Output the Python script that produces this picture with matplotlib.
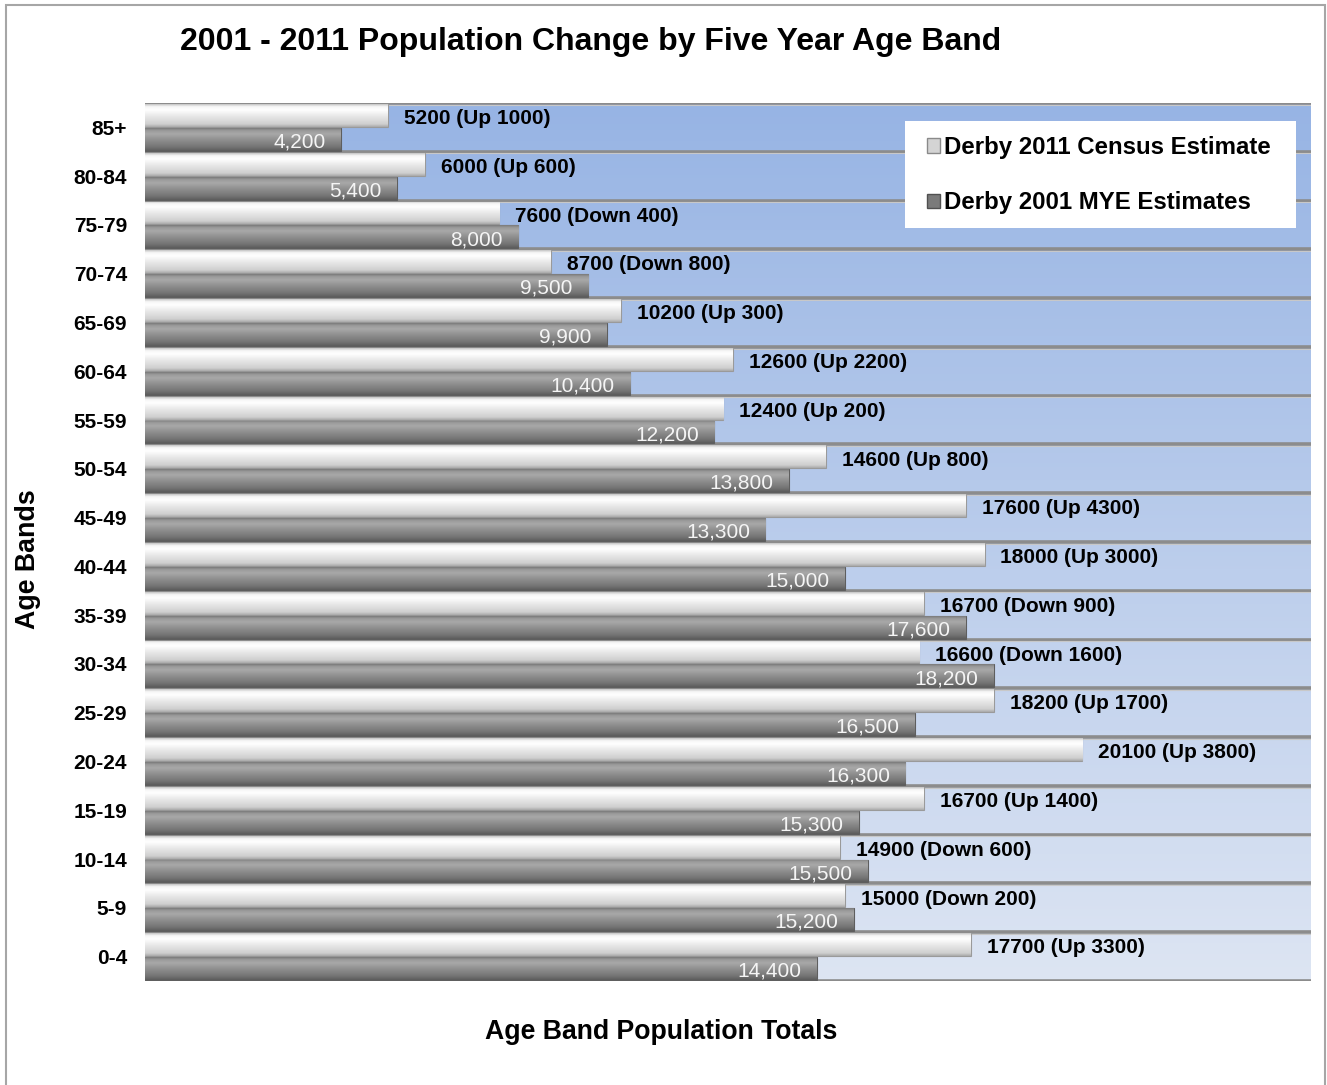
import numpy as np
import matplotlib.pyplot as plt
from matplotlib.patches import Patch, Rectangle
from matplotlib.colors import LinearSegmentedColormap

plt.rcParams['font.family'] = ['Liberation Sans', 'DejaVu Sans']

# age bands, bottom to top
age_bands = ['0-4', '5-9', '10-14', '15-19', '20-24', '25-29', '30-34', '35-39', '40-44',
             '45-49', '50-54', '55-59', '60-64', '65-69', '70-74', '75-79', '80-84', '85+']
pop_2011 = [17700, 15000, 14900, 16700, 20100, 18200, 16600, 16700, 18000,
            17600, 14600, 12400, 12600, 10200, 8700, 7600, 6000, 5200]
pop_2001 = [14400, 15200, 15500, 15300, 16300, 16500, 18200, 17600, 15000,
            13300, 13800, 12200, 10400, 9900, 9500, 8000, 5400, 4200]
change_text = ['Up 3300', 'Down 200', 'Down 600', 'Up 1400', 'Up 3800', 'Up 1700', 'Down 1600',
               'Down 900', 'Up 3000', 'Up 4300', 'Up 800', 'Up 200', 'Up 2200', 'Up 300',
               'Down 800', 'Down 400', 'Up 600', 'Up 1000']

W, H = 1327, 1085
fig = plt.figure(figsize=(W / 100, H / 100), dpi=100)
ax = fig.add_axes([145 / W, 1 - 981 / H, (1311 - 145) / W, (981 - 103) / H])

# helpers to go from reference pixels to axes fractions
def ax_x(px):
    return (px - 145) / 1166

def ax_y(py):
    return (981 - py) / 878

# outer border of the chart
fig.add_artist(Rectangle((6 / W, -0.01), (1325 - 6) / W, 1.01 - 5 / H, transform=fig.transFigure,
                         fill=False, edgecolor='#a6a6a6', linewidth=1.5))

# blue gradient plot background
bg_cmap = LinearSegmentedColormap.from_list('bg', ['#dde5f3', '#97b4e4'])
ax.imshow(np.linspace(0, 1, 256).reshape(-1, 1)[::-1], cmap=bg_cmap, aspect='auto',
          extent=[0, 1, 0, 1], transform=ax.transAxes, zorder=0)

light_cmap = LinearSegmentedColormap.from_list(
    'light', [(0, '#a9a9a9'), (0.12, '#cfcfcf'), (0.45, '#e6e6e6'), (0.75, '#ffffff'), (0.9, '#f6f6f6'), (1, '#c4c4c4')])
dark_cmap = LinearSegmentedColormap.from_list(
    'dark', [(0, '#5c5c5c'), (0.15, '#727272'), (0.45, '#8c8c8c'), (0.75, '#a8a8a8'), (0.9, '#9a9a9a'), (1, '#7a7a7a')])

y = np.arange(len(age_bands))
h = 0.47
bars_new = ax.barh(y + 0.245, pop_2011, height=h, color='#e6e6e6', edgecolor='#9a9a9a', linewidth=0.8, zorder=3)
bars_old = ax.barh(y - 0.245, pop_2001, height=h, color='#8a8a8a', edgecolor='#5e5e5e', linewidth=0.8, zorder=3)

grad = np.linspace(0, 1, 64).reshape(-1, 1)
for bars, cmap in [(bars_new, light_cmap), (bars_old, dark_cmap)]:
    for b in bars:
        x0, y0, bw, bh = b.get_x(), b.get_y(), b.get_width(), b.get_height()
        im = ax.imshow(grad, cmap=cmap, aspect='auto', extent=[x0, x0 + bw, y0, y0 + bh],
                       origin='lower', zorder=3.5, interpolation='bilinear')
        im.set_clip_path(b)

# row separators
for yb in np.arange(-0.5, len(age_bands), 1.0):
    ax.axhline(yb, color='#8c8c8c', lw=2.6, zorder=2)
    ax.axhline(yb - 0.035, color='#c8c8c8', lw=0.8, zorder=2)

for i in range(len(age_bands)):
    ax.annotate('%d (%s)' % (pop_2011[i], change_text[i]), (pop_2011[i], y[i] + 0.18),
                xytext=(11.5, 0), textcoords='offset points', va='center', ha='left',
                fontsize=15, fontweight='bold', color='black', zorder=5)
    ax.annotate('{:,}'.format(pop_2001[i]), (pop_2001[i], y[i] - 0.3),
                xytext=(-11, 0), textcoords='offset points', va='center', ha='right',
                fontsize=15, color='#f5f5f5', zorder=5)

ax.set_xlim(0, 25000)
ax.set_ylim(-0.5, len(age_bands) - 0.5)
ax.set_yticks(y)
ax.set_yticklabels(age_bands, fontsize=15, fontweight='bold')
ax.tick_params(axis='y', length=0, pad=13)
ax.set_xticks([])
for s in ax.spines.values():
    s.set_visible(False)

fig.text(591 / W, 1 - 42 / H, '2001 - 2011 Population Change by Five Year Age Band',
         ha='center', va='center', fontsize=23, fontweight='bold')
fig.text(28 / W, 1 - 559 / H, 'Age Bands', rotation=90, ha='center', va='center',
         fontsize=19.3, fontweight='bold')
fig.text(661 / W, 1 - 1032 / H, 'Age Band Population Totals', ha='center', va='center',
         fontsize=19.2, fontweight='bold')

# legend: white box drawn by hand, entries without frame
ax.add_patch(Rectangle((ax_x(905), ax_y(228)), ax_x(1296) - ax_x(905), ax_y(121) - ax_y(228),
                       transform=ax.transAxes, facecolor='white', edgecolor='none', zorder=9))
handles = [Patch(facecolor='#d4d4d4', edgecolor='#8a8a8a'),
           Patch(facecolor='#7a7a7a', edgecolor='#505050')]
leg = ax.legend(handles, ['Derby 2011 Census Estimate', 'Derby 2001 MYE Estimates'],
                loc='upper left', bbox_to_anchor=(ax_x(927), ax_y(136)),
                frameon=False, prop={'size': 17.3, 'weight': 'bold'},
                handlelength=0.55, handleheight=0.55, handletextpad=0.15,
                labelspacing=1.35, borderpad=0, borderaxespad=0)
leg.set_zorder(10)

fig.savefig('out.png', dpi=100, facecolor='white')
